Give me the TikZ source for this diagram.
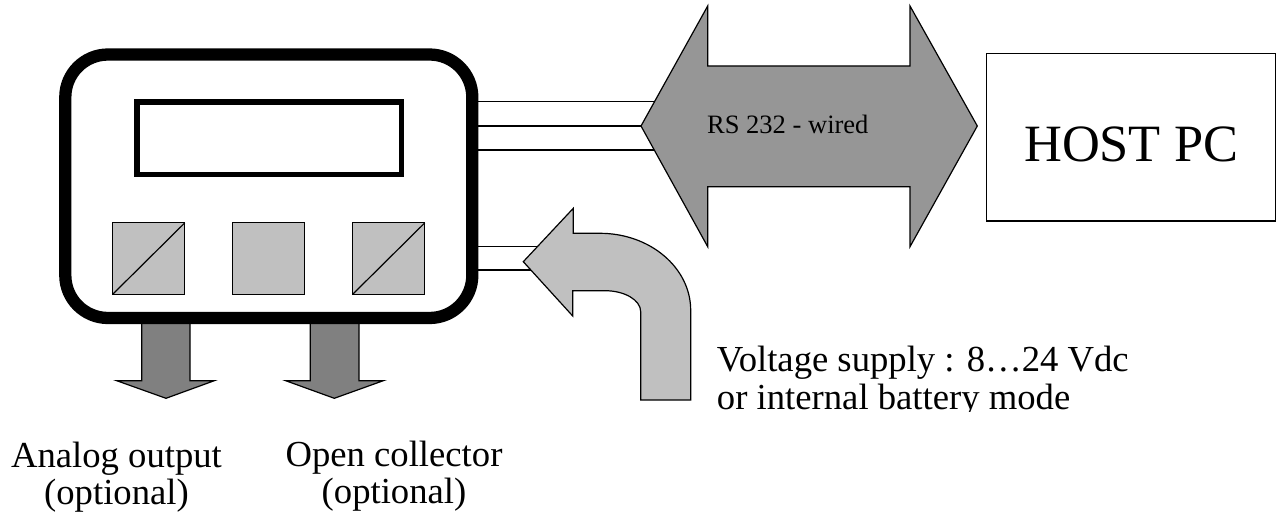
\documentclass[tikz,border=0pt]{standalone}
\usepackage{fontspec}
\setmainfont{Liberation Serif}
\usetikzlibrary{calc}
\definecolor{arrowdark}{HTML}{969696}
\definecolor{arrowmid}{HTML}{808080}
\definecolor{lightfill}{HTML}{C0C0C0}
\begin{document}
\begin{tikzpicture}[x=0.75pt,y=-0.75pt,
  wire/.style={line width=0.9pt},
  device/.style={draw, line width=9.2pt, rounded corners=32pt, fill=white, inner sep=0pt, outer sep=0pt, minimum width=305.25pt, minimum height=197.6pt},
  display/.style={draw, line width=4.2pt, inner sep=0pt, outer sep=0pt, minimum width=198.45pt, minimum height=54.15pt},
  keybox/.style={draw, line width=0.9pt, fill=lightfill, inner sep=0pt, outer sep=0pt, minimum width=54pt, minimum height=53.5pt},
  blockarrow/.style={draw, line width=0.9pt, line join=miter},
  hostbox/.style={draw, line width=1.1pt, inner sep=0pt, outer sep=0pt, minimum width=216.6pt, minimum height=125.6pt},
  biglabel/.style={font=\fontsize{27.5}{27.6}\selectfont, inner sep=0pt, align=center}
]
\useasboundingbox (0,0) rectangle (1285,524);

% output arrows (behind the device)
\draw[blockarrow, fill=arrowmid] (141.7,318) -- (190,318) -- (190,380.7) -- (214.3,380.7)
  -- (166,398.3) coordinate (outA) -- (116.7,380.7) -- (141.7,380.7) -- cycle;
\draw[blockarrow, fill=arrowmid] (310.3,318) -- (359,318) -- (359,380.7) -- (383.3,380.7)
  -- (334.3,398.3) coordinate (outB) -- (285.7,380.7) -- (310.3,380.7) -- cycle;

% device
\node[device] (dev) at (268.8,186.25) {};
\node[display] (disp) at (269,138.4) {};
\node[keybox] (k1) at (148.8,258.5) {};
\node[keybox] (k2) at (268.8,258.5) {};
\node[keybox] (k3) at (388.8,258.5) {};
\draw[wire] (k1.south west) -- (k1.north east);
\draw[wire] (k3.south west) -- (k3.north east);

% RS 232 wires and double arrow
\coordinate (rsTip) at (641,126);
\foreach \dy in {-24.3,0,24}
  \draw[wire] ($(dev.east|-rsTip)+(0,\dy)$) -- ($(rsTip)+(30,\dy)$);
\draw[blockarrow, fill=arrowdark] (rsTip) -- (707.7,6) -- (707.7,66) -- (910,66) -- (910,6)
  -- (977.3,126) coordinate (rsHead) -- (910,246.7) -- (910,186.7) -- (707.7,186.7)
  -- (707.7,246.7) -- cycle;
\node[font=\fontsize{19.9}{22}\selectfont, anchor=base, inner sep=0pt] (rs) at (787.8,133.3) {RS 232 - wired};

% host PC
\node[hostbox] (host) at (1130.9,137.25) {};
\node[font=\fontsize{39.3}{40}\selectfont, anchor=base, inner sep=0pt] (hosttext) at (1131.2,161.7) {HOST PC};

% supply wires and bent arrow
\coordinate (supTip) at (523.3,261.7);
\foreach \dy in {-15,8.3}
  \draw[wire] ($(dev.east|-supTip)+(0,\dy)$) -- ($(supTip)+(25,\dy)$);
\draw[blockarrow, fill=lightfill] (supTip) -- (573.3,208.3) -- (573.3,233.3) -- (600,233.3)
  .. controls (650.1,233.3) and (690.7,267.8) .. (690.7,310.3) -- (690.7,400) -- (640.7,400)
  -- (640.7,311.7) .. controls (640.7,300.1) and (624.7,290.7) .. (605,290.7)
  -- (572.7,290.7) -- (572.7,316) -- cycle;

% labels
\node[biglabel, anchor=north] (lblA) at (116.5,441.6) {Analog output\\(optional)};
\node[biglabel, anchor=north] (lblB) at (394,440.9) {Open collector\\(optional)};
\begin{scope}
  \clip (700,330) rectangle (1285,411.7);
  \node[biglabel, align=left, anchor=north west, font=\fontsize{27.5}{28.5}\selectfont] (supply) at (716.7,345.9)
    {Voltage supply : 8…24 Vdc\\or internal battery mode};
\end{scope}
\end{tikzpicture}
\end{document}
